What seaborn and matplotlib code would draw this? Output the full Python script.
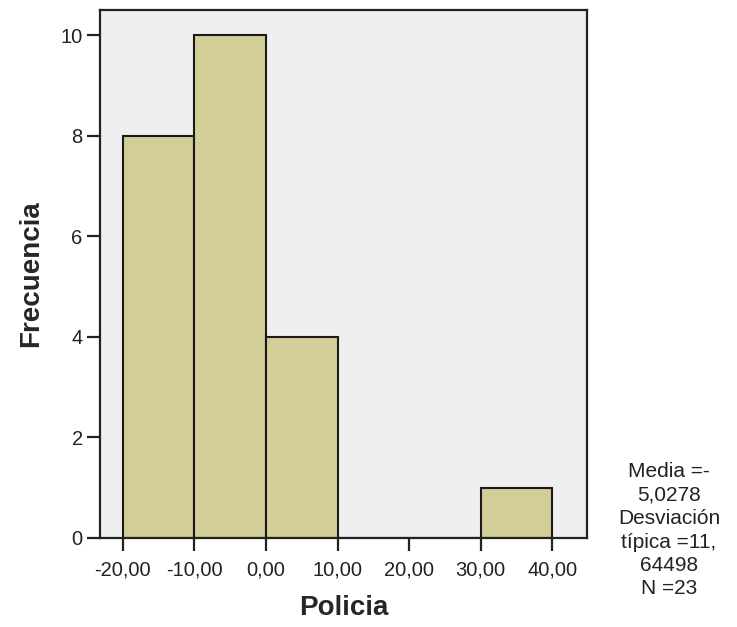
import numpy as np
import seaborn as sns
import matplotlib.pyplot as plt

# bins of the histogram and their counts
bin_edges = [-20, -10, 0, 10, 20, 30, 40]
counts = [8, 10, 4, 0, 0, 1]
x_ticks = [-20, -10, 0, 10, 20, 30, 40]
x_tick_labels = ["-20,00", "-10,00", "0,00", "10,00", "20,00", "30,00", "40,00"]
y_ticks = [0, 2, 4, 6, 8, 10]
stats_text = "Media =-\n5,0278\nDesviación\ntípica =11,\n64498\nN =23"

bin_centers = [(a + b) / 2 for a, b in zip(bin_edges[:-1], bin_edges[1:])]

sns.set_style("ticks")
plt.rcParams['font.family'] = ['Liberation Sans', 'DejaVu Sans']

fig = plt.figure(figsize=(7.37, 6.27), dpi=100)
ax = fig.add_axes([0.1357, 0.142, 0.661, 0.842])
ax.set_facecolor("#efefef")

sns.histplot(x=bin_centers, weights=counts, bins=bin_edges, ax=ax,
             color="#d3ce97", alpha=1, edgecolor="#1a1a1a", linewidth=1.5)

ax.set_xlim(-23.2, 44.9)
ax.set_ylim(0, 10.5)
ax.set_xticks(x_ticks)
ax.set_xticklabels(x_tick_labels)
ax.set_yticks(y_ticks)
ax.tick_params(axis="both", labelsize=14.5, colors="#222222", length=9.5,
               width=1.6, direction="out")
ax.tick_params(axis="x", pad=7)
ax.tick_params(axis="y", pad=3)
for s in ax.spines.values():
    s.set_color("#222222")
    s.set_linewidth(1.6)

ax.set_xlabel("Policia", fontsize=20, fontweight="bold", labelpad=11)
ax.set_ylabel("Frecuencia", fontsize=20, fontweight="bold", labelpad=12)

fig.text(669 / 737, 1 - 462 / 627, stats_text, ha="center", va="top",
         fontsize=15, linespacing=1.3, color="#222222")

fig.savefig("out.png", dpi=100)
plt.close()
